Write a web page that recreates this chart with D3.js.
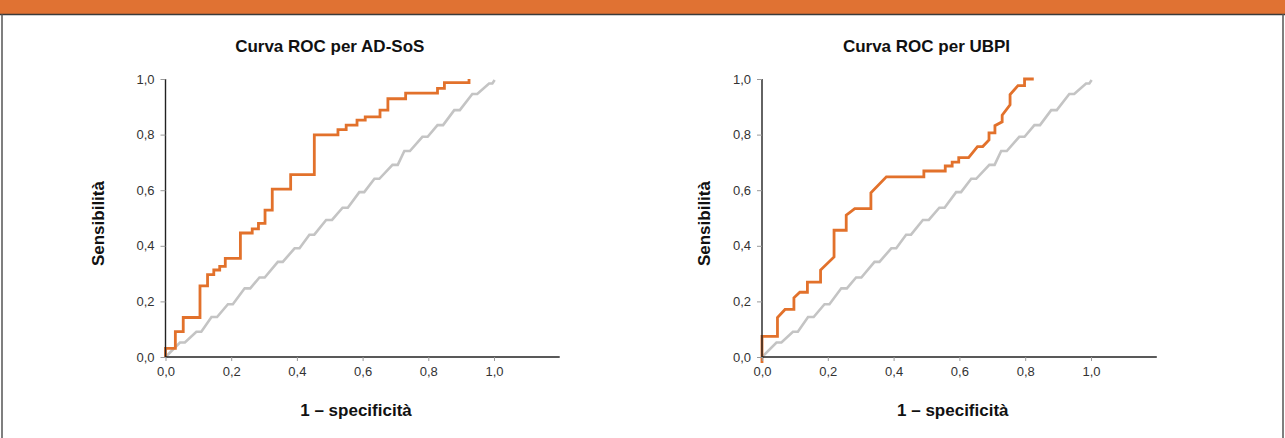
<!DOCTYPE html>
<html>
<head>
<meta charset="utf-8">
<script src="https://cdn.jsdelivr.net/npm/d3@7"></script>
<style>
  html, body { margin: 0; padding: 0; background: #fff; }
  svg { display: block; font-family: "Liberation Sans", Arial, sans-serif; }
</style>
</head>
<body>
<div id="chart"></div>
<script>
// ROC curves, values (x = 1 - specificity, y = sensitivity)
const titles = ['Curva ROC per AD-SoS', 'Curva ROC per UBPI'];
const xTicks = [0, 0.2, 0.4, 0.6, 0.8, 1.0];
const yTicks = [0, 0.2, 0.4, 0.6, 0.8, 1.0];

// AD-SoS: step curve, vertices
const rocAdSos = [
  [0, 0], [0, 0.031], [0.030, 0.031], [0.030, 0.091], [0.054, 0.091], [0.054, 0.142],
  [0.105, 0.142], [0.105, 0.256], [0.128, 0.256], [0.128, 0.296], [0.147, 0.296],
  [0.147, 0.313], [0.165, 0.313], [0.165, 0.326], [0.182, 0.326], [0.182, 0.355],
  [0.228, 0.355], [0.228, 0.446], [0.264, 0.446], [0.264, 0.461], [0.283, 0.461],
  [0.283, 0.481], [0.303, 0.481], [0.303, 0.528], [0.325, 0.528], [0.325, 0.604],
  [0.381, 0.604], [0.381, 0.656], [0.453, 0.656], [0.453, 0.799], [0.525, 0.799],
  [0.525, 0.818], [0.550, 0.818], [0.550, 0.834], [0.583, 0.834], [0.583, 0.852],
  [0.608, 0.852], [0.608, 0.864], [0.653, 0.864], [0.653, 0.888], [0.677, 0.888],
  [0.677, 0.929], [0.731, 0.929], [0.731, 0.949], [0.828, 0.949], [0.828, 0.966],
  [0.849, 0.966], [0.849, 0.987], [0.924, 0.987], [0.924, 1.0]
];

// UBPI
const rocUbpi = [
  [0, -0.022], [0, 0.074], [0.047, 0.074], [0.047, 0.142], [0.070, 0.171],
  [0.097, 0.171], [0.097, 0.213], [0.115, 0.233], [0.138, 0.233], [0.138, 0.269],
  [0.178, 0.269], [0.178, 0.313], [0.219, 0.360], [0.219, 0.456], [0.256, 0.456],
  [0.256, 0.510], [0.282, 0.534], [0.331, 0.534], [0.331, 0.591], [0.378, 0.648],
  [0.492, 0.648], [0.492, 0.669], [0.557, 0.669], [0.557, 0.687], [0.578, 0.687],
  [0.578, 0.701], [0.598, 0.701], [0.598, 0.717], [0.628, 0.717], [0.655, 0.757],
  [0.671, 0.757], [0.690, 0.781], [0.690, 0.806], [0.708, 0.806], [0.708, 0.832],
  [0.730, 0.846], [0.730, 0.870], [0.754, 0.907], [0.754, 0.944], [0.778, 0.976],
  [0.798, 0.976], [0.798, 1.0], [0.826, 1.0]
];

// reference line (stepped diagonal), same in both panels
const diagonal = [
  [0, 0], [0.044, 0.052], [0.059, 0.052], [0.094, 0.091], [0.109, 0.091],
  [0.140, 0.144], [0.157, 0.144], [0.190, 0.190], [0.205, 0.190], [0.241, 0.247],
  [0.258, 0.247], [0.286, 0.286], [0.302, 0.286], [0.342, 0.342], [0.357, 0.342],
  [0.393, 0.391], [0.408, 0.391], [0.438, 0.440], [0.453, 0.440], [0.489, 0.493],
  [0.507, 0.493], [0.539, 0.537], [0.555, 0.537], [0.590, 0.593], [0.605, 0.593],
  [0.636, 0.641], [0.651, 0.641], [0.691, 0.691], [0.707, 0.691], [0.727, 0.741],
  [0.744, 0.741], [0.782, 0.792], [0.798, 0.792], [0.828, 0.834], [0.845, 0.834],
  [0.879, 0.888], [0.896, 0.888], [0.934, 0.946], [0.949, 0.946], [0.985, 0.984],
  [0.995, 0.984], [1.002, 0.996]
];

const W = 1285, H = 438;
const orange = '#e2712b', grey = '#c4c4c4', axisCol = '#222';
const fmt = d => d3.format('.1f')(d).replace('.', ',');

const svg = d3.select('#chart').append('svg')
  .attr('width', W).attr('height', H);

// frame
svg.append('rect').attr('x', 0).attr('y', 0).attr('width', W).attr('height', 14)
  .attr('fill', '#e07233');
svg.append('line').attr('x1', 0).attr('x2', W).attr('y1', 14.5).attr('y2', 14.5)
  .attr('stroke', '#3a3a3a').attr('stroke-width', 1.5);
svg.append('line').attr('x1', 2).attr('x2', 2).attr('y1', 14).attr('y2', H)
  .attr('stroke', '#555').attr('stroke-width', 1.5);
svg.append('line').attr('x1', W - 2).attr('x2', W - 2).attr('y1', 14).attr('y2', H)
  .attr('stroke', '#555').attr('stroke-width', 1.5);

const panels = [
  { title: titles[0], data: rocAdSos, x0: 165.5, unit: 328.5, yLab: 104 },
  { title: titles[1], data: rocUbpi, x0: 762, unit: 329, yLab: 710 }
];

const y = d3.scaleLinear().domain([0, 1]).range([357, 79]);

panels.forEach(p => {
  const x = d3.scaleLinear().domain([0, 1.2]).range([p.x0, p.x0 + 1.2 * p.unit]);
  const g = svg.append('g');

  const line = d3.line().x(d => x(d[0])).y(d => y(d[1]));

  g.append('path').datum(diagonal).attr('d', line)
    .attr('fill', 'none').attr('stroke', grey).attr('stroke-width', 2.6);

  g.append('path').datum(p.data).attr('d', line)
    .attr('fill', 'none').attr('stroke', orange).attr('stroke-width', 2.8);

  // axes
  const xAxis = d3.axisBottom(x).tickValues(xTicks).tickFormat(fmt).tickSize(4).tickPadding(6);
  const yAxis = d3.axisLeft(y).tickValues(yTicks).tickFormat(fmt).tickSize(5).tickPadding(6);

  const gx = g.append('g').attr('transform', 'translate(0,' + y(0) + ')').call(xAxis);
  const gy = g.append('g').attr('transform', 'translate(' + x(0) + ',0)').call(yAxis);
  [gx, gy].forEach(a => {
    a.select('.domain').attr('stroke', axisCol).attr('stroke-width', 1.4);
    a.selectAll('.tick line').attr('stroke', '#999');
    a.selectAll('.tick text').attr('fill', '#333').style('font-size', '13px');
  });
  gx.select('.domain').attr('d', 'M' + x(0) + ',0H' + x(1.2));
  gy.select('.domain').attr('d', 'M0,' + y(1) + 'V' + y(0));

  // texts
  g.append('text').attr('x', x(0.5)).attr('y', 52)
    .attr('text-anchor', 'middle').attr('font-weight', 'bold').attr('font-size', 17)
    .attr('fill', '#111').text(p.title);

  g.append('text').attr('x', x(0.58)).attr('y', 416)
    .attr('text-anchor', 'middle').attr('font-weight', 'bold').attr('font-size', 17)
    .attr('fill', '#111').text('1 – specificità');

  g.append('text')
    .attr('transform', 'translate(' + p.yLab + ',' + y(0.48) + ') rotate(-90)')
    .attr('text-anchor', 'middle').attr('font-weight', 'bold').attr('font-size', 17)
    .attr('fill', '#111').text('Sensibilità');
});
</script>
</body>
</html>
